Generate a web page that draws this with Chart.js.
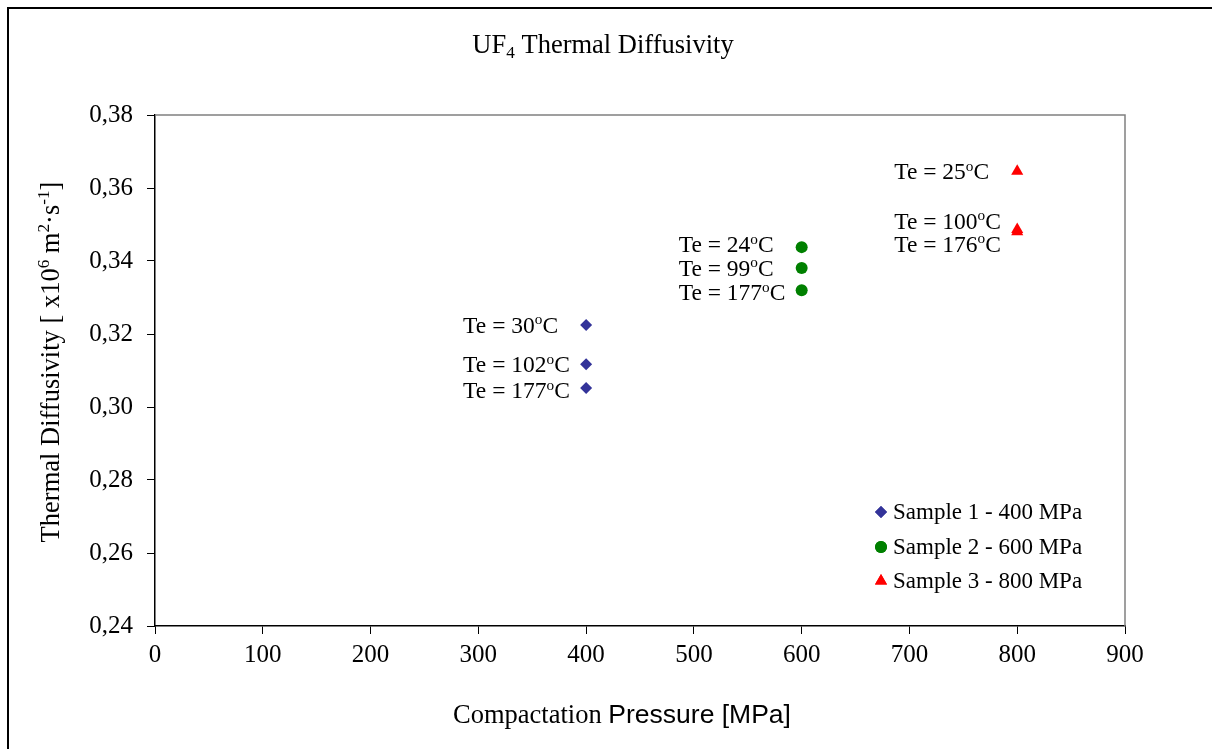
<!DOCTYPE html>
<html>
<head>
<meta charset="utf-8">
<script src="https://cdn.jsdelivr.net/npm/chart.js@4"></script>
<style>
  body { margin: 0; background: #fff; }
  canvas { display: block; }
</style>
</head>
<body>
<canvas id="diffChart" width="1212" height="749"></canvas>
<script>
// data
const pressures = [400, 600, 800];
const sample1 = [0.3225, 0.3117, 0.3052];
const sample2 = [0.3438, 0.3381, 0.3320];
const sample3 = [0.3646, 0.3486, 0.3480];
const temps1 = ["30", "102", "177"];
const temps2 = ["24", "99", "177"];
const temps3 = ["25", "100", "176"];
const seriesNames = ["Sample 1 - 400 MPa", "Sample 2 - 600 MPa", "Sample 3 - 800 MPa"];
const yTicks = [0.24, 0.26, 0.28, 0.30, 0.32, 0.34, 0.36, 0.38];
const xTicks = [0, 100, 200, 300, 400, 500, 600, 700, 800, 900];

// label vertical nudges (px) so the text doesn't overlap
const labelDy = [[0, 0, 2], [-3, 0, 2], [0, -9, 12]];

const SERIF = '"Liberation Serif", "Times New Roman", serif';
const SANS = '"Liberation Sans", Arial, sans-serif';
const colors = ["#333399", "#008000", "#ff0000"];
const shapes = ["rectRot", "circle", "triangle"];
const radii = [6, 6, 7];

function pts(vals, x) {
    return vals.map(v => ({ x: x, y: v }));
}

// draw text with superscripts / subscripts, segments: [text, mode, font]
function richWidth(ctx, segs, size) {
    let w = 0;
    segs.forEach(s => {
        ctx.font = (s[1] ? size * 0.65 : size) + "px " + (s[2] || SERIF);
        w += ctx.measureText(s[0]).width;
    });
    return w;
}
function drawRich(ctx, segs, x, y, size) {
    ctx.textBaseline = "alphabetic";
    ctx.textAlign = "left";
    segs.forEach(s => {
        const small = s[1] ? size * 0.65 : size;
        ctx.font = small + "px " + (s[2] || SERIF);
        let dy = 0;
        if (s[1] === "sup") dy = -size * 0.36;
        if (s[1] === "sub") dy = size * 0.2;
        ctx.fillText(s[0], x, y + dy);
        x += ctx.measureText(s[0]).width;
    });
}

const extras = {
    id: "extras",
    afterDraw(chart) {
        const ctx = chart.ctx;
        const a = chart.chartArea;
        const xs = chart.scales.x, ys = chart.scales.y;
        ctx.save();
        ctx.fillStyle = "#000";

        // outer frame
        ctx.strokeStyle = "#000";
        ctx.lineWidth = 2;
        ctx.beginPath();
        ctx.moveTo(8, 749);
        ctx.lineTo(8, 8);
        ctx.lineTo(1212, 8);
        ctx.stroke();

        // grey top/right border of plot area
        ctx.strokeStyle = "#808080";
        ctx.lineWidth = 1.5;
        ctx.beginPath();
        ctx.moveTo(a.left, a.top);
        ctx.lineTo(a.right, a.top);
        ctx.lineTo(a.right, a.bottom);
        ctx.stroke();

        // title
        const title = [["UF"], ["4", "sub"], [" Thermal Diffusivity"]];
        const tw = richWidth(ctx, title, 26.5);
        drawRich(ctx, title, 603 - tw / 2, 53, 26.5);

        // x axis title, two fonts as in the original
        const xt = [["Compactation "], ["Pressure [MPa]", null, SANS]];
        const xw = richWidth(ctx, xt, 26.5);
        drawRich(ctx, xt, 622 - xw / 2, 723, 26.5);

        // y axis title
        const yt = [["Thermal Diffusivity [ x10"], ["6", "sup"], [" m"], ["2", "sup"], ["\u00b7s"], ["-1", "sup"], ["]"]];
        const yw = richWidth(ctx, yt, 26.5);
        ctx.save();
        ctx.translate(59, 362);
        ctx.rotate(-Math.PI / 2);
        drawRich(ctx, yt, -yw / 2, 0, 26.5);
        ctx.restore();

        // point labels "Te = xx°C"
        const all = [[sample1, temps1], [sample2, temps2], [sample3, temps3]];
        all.forEach((s, i) => {
            s[0].forEach((v, j) => {
                const px = xs.getPixelForValue(pressures[i]);
                const py = ys.getPixelForValue(v) + labelDy[i][j];
                drawRich(ctx, [["Te = " + s[1][j]], ["o", "sup"], ["C"]], px - 123, py + 8, 23.5);
            });
        });

        // legend inside plot
        const lx = 881, ly = [512, 547, 581];
        seriesNames.forEach((name, i) => {
            ctx.fillStyle = colors[i];
            Chart.helpers.drawPoint(ctx, { pointStyle: shapes[i], radius: radii[i], rotation: 0, borderWidth: 0 }, lx, ly[i]);
            ctx.fill();
            ctx.fillStyle = "#000";
            ctx.font = "23px " + SERIF;
            ctx.textBaseline = "middle";
            ctx.textAlign = "left";
            ctx.fillText(name, lx + 12, ly[i] + 1);
        });
        ctx.restore();
    }
};

new Chart(document.getElementById("diffChart"), {
    type: "scatter",
    data: {
        datasets: [
            { label: seriesNames[0], data: pts(sample1, pressures[0]) },
            { label: seriesNames[1], data: pts(sample2, pressures[1]) },
            { label: seriesNames[2], data: pts(sample3, pressures[2]) }
        ].map((d, i) => Object.assign(d, {
            pointStyle: shapes[i],
            pointRadius: radii[i],
            backgroundColor: colors[i],
            borderColor: colors[i],
            borderWidth: 0
        }))
    },
    options: {
        responsive: false,
        animation: false,
        layout: { padding: { left: 0, top: 115, right: 87, bottom: 0 } },
        plugins: {
            legend: { display: false },
            tooltip: { enabled: false }
        },
        scales: {
            x: {
                type: "linear",
                min: 0,
                max: 900,
                afterBuildTicks: s => { s.ticks = xTicks.map(v => ({ value: v })); },
                afterFit: s => { s.height = 123; },
                grid: { drawOnChartArea: false, drawTicks: true, tickLength: 8, color: "#000" },
                border: { color: "#000", width: 1.5 },
                ticks: { color: "#000", font: { family: SERIF, size: 25 }, padding: 6 }
            },
            y: {
                min: 0.24,
                max: 0.38,
                afterBuildTicks: s => { s.ticks = yTicks.map(v => ({ value: v })); },
                afterFit: s => { s.width = 155; },
                grid: { drawOnChartArea: false, drawTicks: true, tickLength: 8, color: "#000" },
                border: { color: "#000", width: 1.5 },
                ticks: {
                    color: "#000",
                    font: { family: SERIF, size: 25 },
                    padding: 14,
                    callback: v => v.toFixed(2).replace(".", ",")
                }
            }
        }
    },
    plugins: [extras]
});
</script>
</body>
</html>
